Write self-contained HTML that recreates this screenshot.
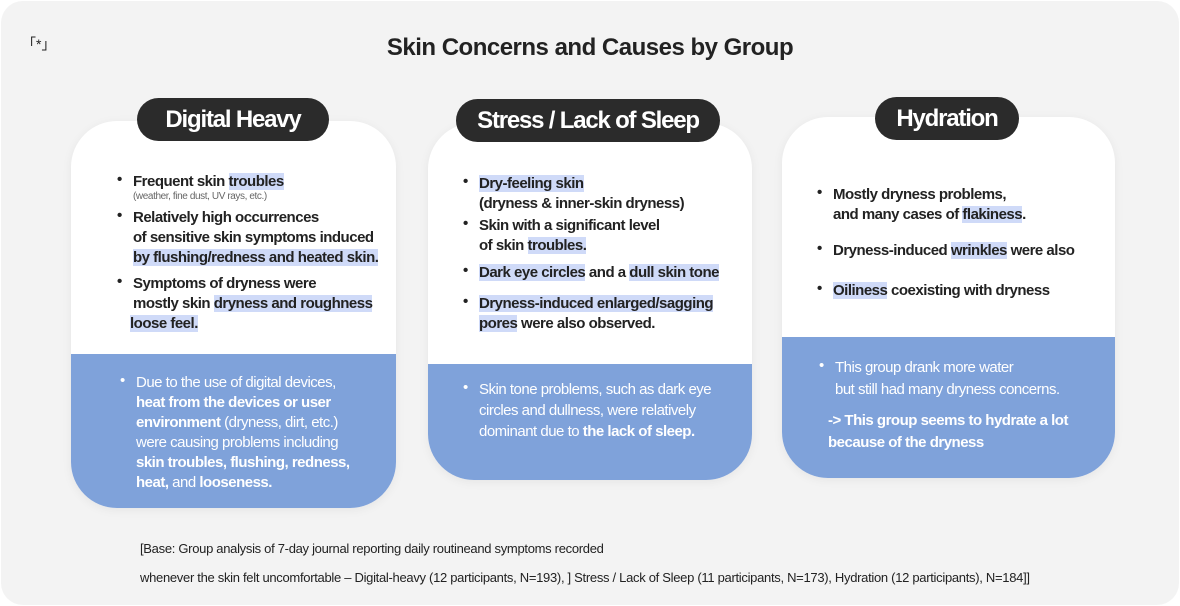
<!DOCTYPE html>
<html><head><meta charset="utf-8"><style>
*{margin:0;padding:0;box-sizing:border-box}
body{width:1180px;height:606px;background:#fff;font-family:"Liberation Sans","Noto Sans CJK KR",sans-serif;position:relative;overflow:hidden;color:#222}
.bg{position:absolute;left:1px;top:1px;width:1178px;height:604px;background:#f3f3f3;border-radius:22px}
.t{position:absolute;white-space:nowrap}
.card{position:absolute;border-radius:46px;overflow:hidden;background:#fff;box-shadow:0 2px 10px rgba(0,0,0,0.06)}
.blue{position:absolute;left:0;right:0;bottom:0;background:#7fa2da}
.pill{position:absolute;background:#2b2b2b;color:#fff;border-radius:22px;font-weight:bold;font-size:24px;letter-spacing:-1.2px;text-align:center;line-height:43px;height:43px}
.tx{position:absolute;font-size:15px;letter-spacing:-0.5px;font-weight:bold;line-height:20px;color:#222;white-space:nowrap}
.tx::before{content:"•";position:absolute;left:-16px;top:-2px}
.w{color:#fff;font-weight:normal}
.w b{font-weight:bold}
.h{background:#cfdaf8}
</style></head><body>
<div class="bg"></div>
<div class="t" style="left:22px;top:34px;font-size:14px">「*」</div>
<div class="t" style="left:0;width:1180px;text-align:center;top:34px;font-size:24px;font-weight:bold;letter-spacing:-0.5px;color:#222">Skin Concerns and Causes by Group</div>

<div class="card" style="left:71px;top:121px;width:325px;height:387px"><div class="blue" style="top:233px"></div></div>
<div class="card" style="left:428px;top:123px;width:324px;height:357px"><div class="blue" style="top:241px"></div></div>
<div class="card" style="left:782px;top:117px;width:333px;height:361px"><div class="blue" style="top:220px"></div></div>

<div class="pill" style="left:137px;top:98px;width:192px">Digital Heavy</div>
<div class="pill" style="left:456px;top:99px;width:264px">Stress / Lack of Sleep</div>
<div class="pill" style="left:875px;top:97px;width:144px">Hydration</div>

<!-- card1 -->
<div class="tx" style="left:133px;top:172px">Frequent skin <span class="h">troubles</span></div>
<div class="t" style="left:133px;top:191px;font-size:10px;letter-spacing:-0.4px;color:#666">(weather, fine dust, UV rays, etc.)</div>
<div class="tx" style="left:133px;top:208px">Relatively high occurrences<br>of sensitive skin symptoms induced<br><span class="h">by flushing/redness and heated skin.</span></div>
<div class="tx" style="left:133px;top:274px">Symptoms of dryness were<br>mostly skin <span class="h">dryness and roughness</span><br><span class="h" style="margin-left:-3px">loose feel.</span></div>
<div class="tx w" style="left:136px;top:373px">Due to the use of digital devices,<br><b>heat from the devices or user</b><br><b>environment</b> (dryness, dirt, etc.)<br>were causing problems including<br><b>skin troubles, flushing, redness,</b><br><b>heat,</b> and <b>looseness.</b></div>

<!-- card2 -->
<div class="tx" style="left:479px;top:174px">
<span class="h">Dry-feeling skin</span><br>(dryness &amp; inner-skin dryness)</div>
<div class="tx" style="left:479px;top:216px">Skin with a significant level<br>of skin <span class="h">troubles.</span></div>
<div class="tx" style="left:479px;top:263px"><span class="h">Dark eye circles</span> and a <span class="h">dull skin tone</span></div>
<div class="tx" style="left:479px;top:294px"><span class="h">Dryness-induced enlarged/sagging</span><br><span class="h">pores</span> were also observed.</div>
<div class="tx w" style="left:479px;top:379px;line-height:21px">Skin tone problems, such as dark eye<br>circles and dullness, were relatively<br>dominant due to <b>the lack of sleep.</b></div>

<!-- card3 -->
<div class="tx" style="left:833px;top:185px">Mostly dryness problems,<br>and many cases of <span class="h">flakiness</span>.</div>
<div class="tx" style="left:833px;top:241px">Dryness-induced <span class="h">wrinkles</span> were also</div>
<div class="tx" style="left:833px;top:281px"><span class="h">Oiliness</span> coexisting with dryness</div>
<div class="tx w" style="left:835px;top:357px;line-height:22px">This group drank more water<br>but still had many dryness concerns.</div>
<div class="t" style="left:828px;top:410px;line-height:22px;font-size:15px;letter-spacing:-0.5px;color:#fff;font-weight:bold">-&gt; This group seems to hydrate a lot<br>because of the dryness</div>

<div class="t" style="left:140px;top:541px;font-size:13px;letter-spacing:-0.3px;color:#222">[Base: Group analysis of 7-day journal reporting daily routineand symptoms recorded</div>
<div class="t" style="left:140px;top:570px;font-size:13px;letter-spacing:-0.3px;color:#222">whenever the skin felt uncomfortable – Digital-heavy (12 participants, N=193), ] Stress / Lack of Sleep (11 participants, N=173), Hydration (12 participants), N=184]]</div>
</body></html>
